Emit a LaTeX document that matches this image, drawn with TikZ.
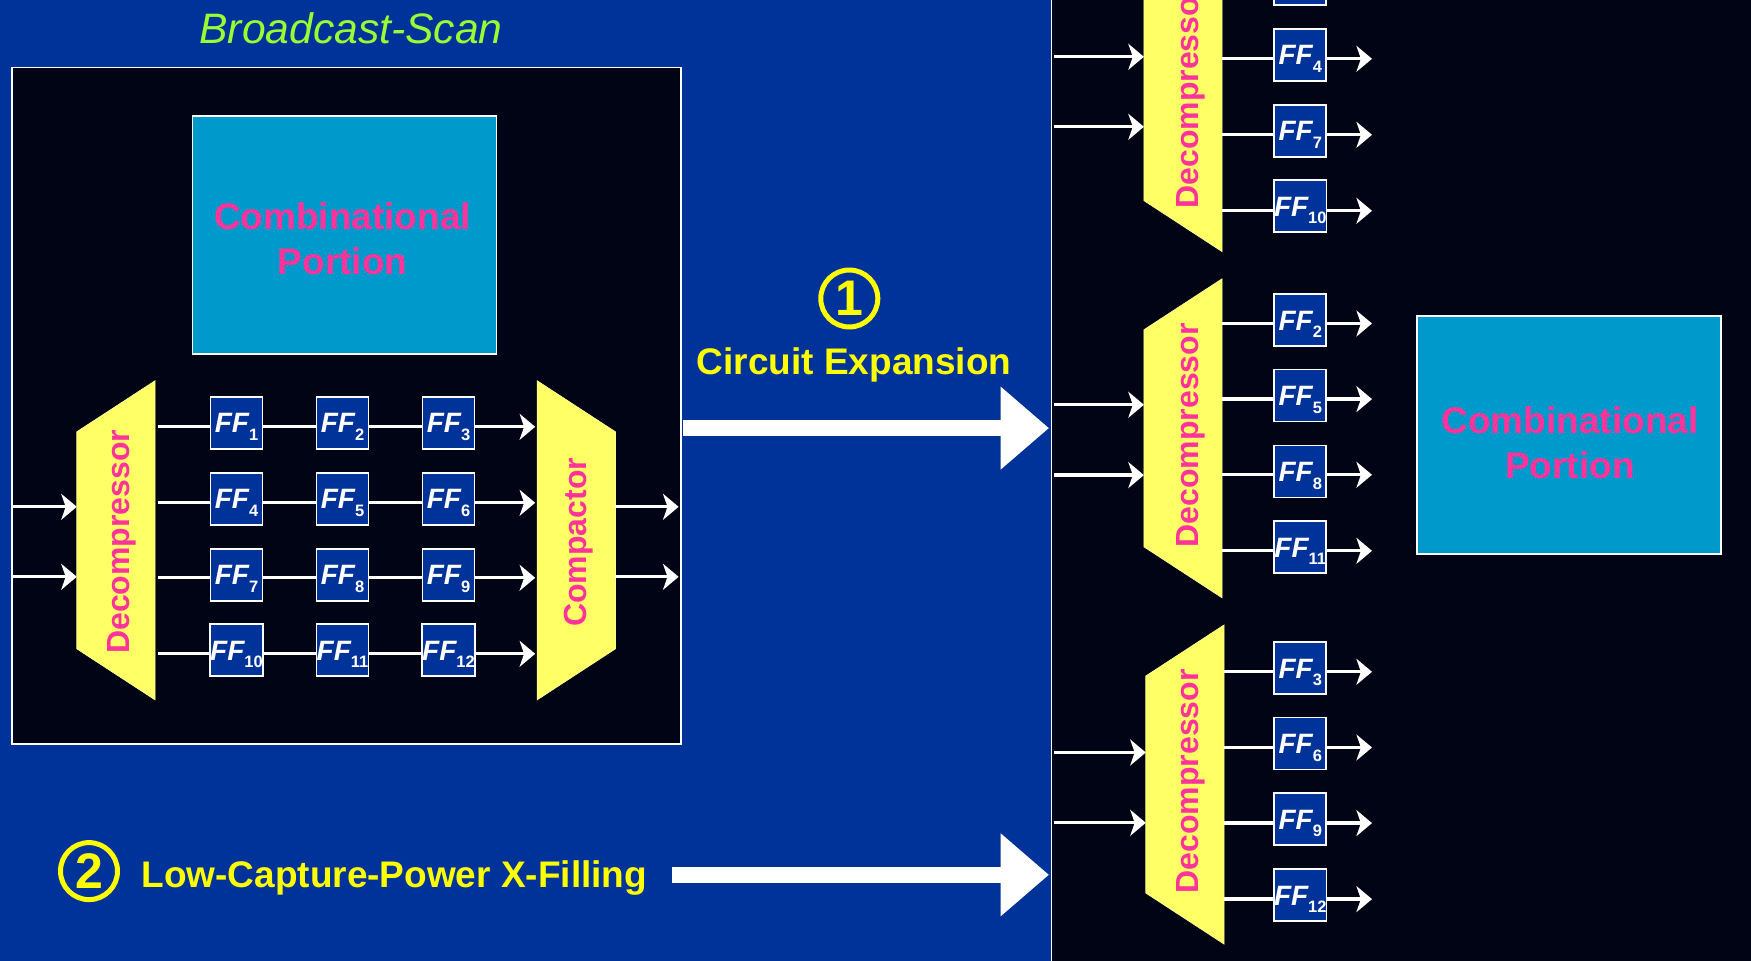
\documentclass[tikz,border=0pt]{standalone}
\usepackage{fontspec}
\setmainfont{Liberation Sans}
\usetikzlibrary{arrows.meta}
\definecolor{bgblue}{HTML}{003399}
\definecolor{panelblack}{HTML}{000414}
\definecolor{trapyellow}{HTML}{FFFF66}
\definecolor{labelpink}{HTML}{FF3399}
\definecolor{combcyan}{HTML}{0099CC}
\definecolor{titlegreen}{HTML}{99FF33}
\definecolor{textyellow}{HTML}{FFFF00}
\newcommand\fsz[1]{\fontsize{#1}{#1}\selectfont}
\newcommand\fflabel[1]{{\fsz{28}\bfseries\itshape FF}\raisebox{-7.6pt}{\fsz{16.5}\bfseries #1}}
\tikzset{
  x=1pt,y=-1pt,
  panelbox/.style={fill=panelblack,draw=white,line width=1.6pt},
  combbox/.style={fill=combcyan,draw=white,line width=1.8pt,inner sep=0pt,outer sep=0pt},
  combtext/.style={text=labelpink,font=\fontsize{37}{45}\selectfont\bfseries,align=center,inner sep=0pt},
  ffbox/.style={fill=bgblue,draw=white,line width=1.7pt,text=white,inner sep=0pt,outer sep=0pt,minimum width=52pt,text height=36pt,text depth=16pt},
  trapframe/.style={inner sep=0pt,outer sep=0pt,minimum width=78.2pt,minimum height=319pt},
  trapfill/.style={fill=trapyellow,draw=trapyellow!70!white,line width=.7pt},
  traptext/.style={text=labelpink,rotate=90,font=\fsz{32}\bfseries,inner sep=0pt,anchor=base},
  wire/.style={draw=white,line width=3.3pt},
  wirearrow/.style={wire,-{Stealth[length=15.6pt,width=26pt,inset=4.5pt]}},
  bigarrow/.style={draw=white,line width=16pt,-{Triangle[length=48.3pt,width=79.7pt]}},
  capt/.style={text=textyellow,font=\fsz{37}\bfseries,inner sep=0pt,anchor=base},
  circ/.style={circle,draw=textyellow,line width=5pt,minimum size=57pt,inner sep=0pt,text=textyellow,font=\fsz{50}\bfseries},
}
\newcommand\trapdec[1]{\path[trapfill] (#1.north east) -- ([yshift=-51pt]#1.north west) -- ([yshift=51pt]#1.south west) -- (#1.south east) -- cycle;}
\newcommand\trapcomp[1]{\path[trapfill] (#1.north west) -- ([yshift=-51pt]#1.north east) -- ([yshift=51pt]#1.south east) -- (#1.south west) -- cycle;}
\begin{document}
\begin{tikzpicture}
\useasboundingbox (0,-0.8) rectangle (1751,960.2);
\clip (0,-0.8) rectangle (1751,960.2);
\fill[bgblue] (0,-2) rectangle (1751,962);
% panels
\draw[panelbox] (1051.5,-10) rectangle (1765,975);
\node[panelbox,inner sep=0pt,outer sep=0pt,minimum width=669pt,minimum height=676.6pt] (panel) at (346.5,405) {};
\node[text=titlegreen,font=\fsz{42.6}\itshape,inner sep=0pt,anchor=base] (title) at (351,42.7) {Broadcast-Scan};
% combinational boxes
\node[combbox,minimum width=304pt,minimum height=238pt] (combL) at (344.5,234.2) {};
\node[combtext] (combLt) at (342.5,238) {Combinational\\Portion};
\node[combbox,minimum width=304pt,minimum height=238pt] (combR) at (1568.9,434.3) {};
\node[combtext] (combRt) at (1570,442) {Combinational\\Portion};
% left trapezoids
\node[trapframe] (dec) at (115.9,539.5) {};
\node[trapframe] (comp) at (576.3,539.5) {};
\trapdec{dec}\trapcomp{comp}
\node[traptext] (dect) at (129.5,541) {Decompressor};
\node[traptext] (compt) at (586.5,541.5) {Compactor};
% left FF grid
\foreach \r/\ry/\rw/\a/\b/\c in {1/422/426/1/2/3,2/498/502/4/5/6,3/574/577/7/8/9,4/649.5/653/10/11/12}{
  \node[ffbox] (fa\r) at (236.5,\ry) {\fflabel{\a}};
  \node[ffbox] (fb\r) at (342.5,\ry) {\fflabel{\b}};
  \node[ffbox] (fc\r) at (448.5,\ry) {\fflabel{\c}};
  \coordinate (rw\r) at (0,\rw);
  \draw[wire,shorten <=3pt] (dec.east |- rw\r) -- (fa\r.west |- rw\r);
  \draw[wire] (fa\r.east |- rw\r) -- (fb\r.west |- rw\r);
  \draw[wire] (fb\r.east |- rw\r) -- (fc\r.west |- rw\r);
  \draw[wirearrow,shorten >=2pt] (fc\r.east |- rw\r) -- (comp.west |- rw\r);
}
% left inputs and outputs
\foreach \i/\iy in {1/506,2/576}{
  \coordinate (lin\i) at (0,\iy);
  \draw[wirearrow] (panel.west |- lin\i) -- (dec.west |- lin\i);
  \coordinate (lout\i) at (678.6,\iy);
  \draw[wirearrow] (comp.east |- lin\i) -- (lout\i);
}
% right group trapezoids
\node[trapframe] (d1) at (1183,91.3) {};
\node[trapframe] (d2) at (1183,437.5) {};
\node[trapframe] (d3) at (1184.9,783.7) {};
\trapdec{d1}\trapdec{d2}\trapdec{d3}
\node[traptext] (d1t) at (1198.3,95.7) {Decompressor};
\node[traptext] (d2t) at (1198.3,434.5) {Decompressor};
\node[traptext] (d3t) at (1198.3,780.5) {Decompressor};
% right inputs
\foreach \g/\y in {d1/56,d1/126,d2/404,d2/474.3,d3/751.7,d3/822}{
  \coordinate (gi) at (1054.3,\y);
  \draw[wirearrow] (gi) -- (\g.west |- gi);
}
% right FFs
\node[ffbox] (r1) at (1300.3,-21.5) {};
\foreach \n/\g/\l/\cy/\wy in {r4/d1/4/54/58,r7/d1/7/130/134,r10/d1/10/205.5/210,
    r2/d2/2/319.5/322.7,r5/d2/5/394.8/398.3,r8/d2/8/470.8/474,r11/d2/11/546.5/550,
    r3/d3/3/667.2/671,r6/d3/6/742.7/746.7,r9/d3/9/818.5/822.3,r12/d3/12/894.3/898.3}{
  \node[ffbox] (\n) at (1300.3,\cy) {\fflabel{\l}};
  \coordinate (\n w) at (0,\wy);
  \coordinate (\n e) at (1372,\wy);
  \draw[wire] (\g.east |- \n w) -- (\n.west |- \n w);
  \draw[wirearrow] (\n.east |- \n w) -- (\n e);
}
% main arrows and captions
\coordinate (a1s) at (682.7,427.3); \coordinate (a1e) at (1049,427.3);
\coordinate (a2s) at (672.3,874);   \coordinate (a2e) at (1049,874);
\draw[bigarrow] (a1s) -- (a1e);
\draw[bigarrow] (a2s) -- (a2e);
\node[circ] (n1) at (849.3,297.7) {1};
\node[capt] (cap1) at (854,374) {Circuit Expansion};
\node[circ] (n2) at (89,870.3) {2};
\node[capt] (cap2) at (394.3,886.5) {Low-Capture-Power X-Filling};
\end{tikzpicture}
\end{document}
